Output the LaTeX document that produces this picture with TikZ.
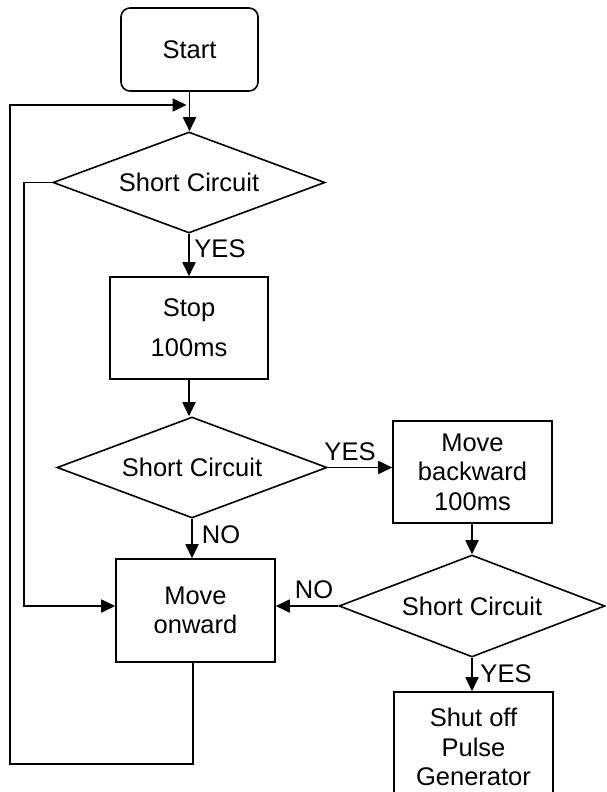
\documentclass[tikz,border=0pt]{standalone}
\usepackage{fontspec}
\setmainfont{Liberation Sans}
\usetikzlibrary{shapes.geometric,arrows.meta}
\begin{document}
\begin{tikzpicture}[x=1pt,y=-1pt,
  every node/.style={font=\fontsize{25.5}{29.5}\selectfont},
  box/.style={draw,line width=1.6pt,rectangle,inner sep=0pt,align=center},
  dec/.style={draw,line width=1.6pt,diamond,aspect=2.7,inner sep=0pt},
  conn/.style={line width=1.8pt},
  arr/.style={conn,-{Triangle[length=14pt,width=13pt]}},
  lbl/.style={inner sep=0pt}]
\clip (0,0) rectangle (606,792);
\fill[white] (0,0) rectangle (606,792);
% nodes
\node[box,rounded corners=9pt,minimum width=137pt,minimum height=83pt] (start) at (189.5,49.5) {Start};
\node[dec,minimum width=272pt,minimum height=101pt] (d1) at (189,182.5) {Short Circuit};
\node[box,minimum width=158pt,minimum height=102pt,font=\fontsize{25.5}{40}\selectfont] (stop) at (189,328) {Stop\\100ms};
\node[dec,minimum width=270pt,minimum height=101pt] (d2) at (192,467.5) {Short Circuit};
\node[box,minimum width=159pt,minimum height=102pt] (mb) at (472.5,472) {Move\\backward\\100ms};
\node[box,minimum width=159pt,minimum height=103pt] (mo) at (195.5,610.5) {Move\\onward};
\node[dec,minimum width=266pt,minimum height=102pt] (d3) at (472,606) {Short Circuit};
\node[box,minimum width=159pt,minimum height=110pt] (so) at (473.5,747) {Shut off\\Pulse\\Generator};
% helper coordinates
\coordinate (j) at (189.5,105);
\coordinate (lb) at (10,764);
\coordinate (l1) at (24,182.5);
\coordinate (mob) at (193,662);
% connectors
\draw[arr] (start.south) -- (start.south |- d1.north);
\draw[arr,shorten >=3pt] (mob) -- (mob |- lb) -- (lb) |- (j);
\draw[arr] (d1.west) -- (l1) |- (mo.west |- d3.west);
\draw[arr] (d1.south) -- (d1.south |- stop.north);
\draw[arr] (stop.south -| d1.south) -- (d2.north -| d1.south);
\draw[arr] (d2.east) -- (mb.west |- d2.east);
\draw[arr] (d2.south) -- (d2.south |- mo.north);
\draw[arr] (mb.south -| d3.north) -- (d3.north);
\draw[arr] (d3.west) -- (mo.east |- d3.west);
\draw[arr] (d3.south) -- (d3.south |- so.north);
% labels
\node[lbl] (y1) at (220,249) {YES};
\node[lbl] (y2) at (350,451.5) {YES};
\node[lbl] (n1) at (221,535) {NO};
\node[lbl] (n2) at (314,590) {NO};
\node[lbl] (y3) at (506,673.5) {YES};
\end{tikzpicture}
\end{document}
